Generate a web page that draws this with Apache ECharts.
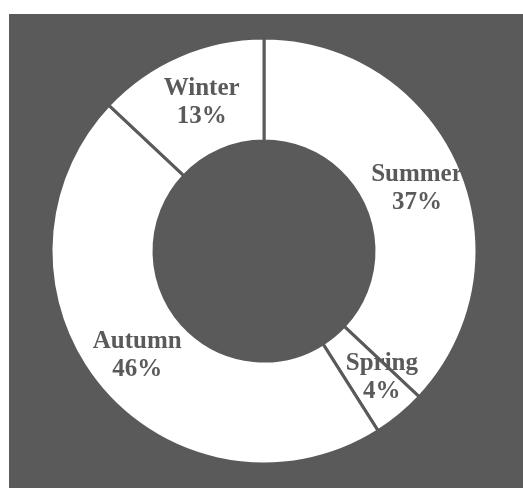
<!DOCTYPE html>
<html>
<head>
<meta charset="utf-8">
<script src="https://cdn.jsdelivr.net/npm/echarts@6/dist/echarts.min.js"></script>
<style>
html,body{margin:0;padding:0;background:#ffffff;width:523px;height:488px;overflow:hidden;}
#chart{position:absolute;left:9px;top:14px;width:514px;height:474px;}
</style>
</head>
<body>
<div id="chart"></div>
<script>
var categories = ['Summer', 'Spring', 'Autumn', 'Winter'];
var values = [37, 4, 46, 13];

var chart = echarts.init(document.getElementById('chart'));
var gray = '#5a5a5a';
chart.setOption({
  backgroundColor: gray,
  animation: false,
  series: [{
    type: 'pie',
    center: [255, 237],
    radius: [110, 213],
    startAngle: 90,
    clockwise: true,
    avoidLabelOverlap: false,
    itemStyle: { color: '#ffffff', borderColor: gray, borderWidth: 3 },
    label: {
      show: true,
      position: 'inside',
      formatter: function (p) { return p.name + '\n' + p.value + '%'; },
      color: gray,
      fontFamily: 'Liberation Serif, Times New Roman, serif',
      fontWeight: 'bold',
      fontSize: 25,
      lineHeight: 28
    },
    labelLine: { show: false },
    emphasis: { disabled: true },
    labelLayout: function (p) {
      if (p.dataIndex === 1) { return { dx: 13, dy: 0 }; }
      if (p.dataIndex === 0) { return { dx: 2, dy: 3 }; }
      if (p.dataIndex === 3) { return { dx: 3, dy: 3 }; }
      return {};
    },
    data: categories.map(function (c, i) { return { name: c, value: values[i] }; })
  }]
});
</script>
</body>
</html>
